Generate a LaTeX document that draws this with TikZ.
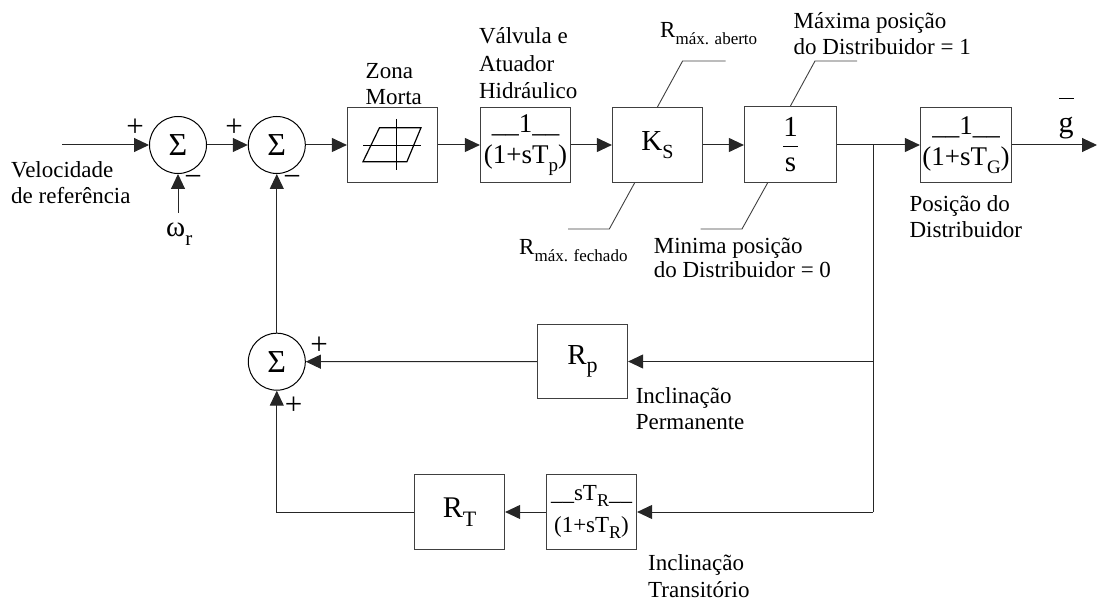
\documentclass[tikz,border=0pt]{standalone}
\usepackage{fontspec}
\setmainfont{Liberation Serif}
\usetikzlibrary{arrows.meta}
\newcommand{\fs}[2]{\fontsize{#1}{#2}\selectfont}
\newcommand{\lowsub}[2]{\raisebox{-0.28em}{\fontsize{#1}{#1}\selectfont #2}}
\tikzset{
  blockbox/.style={draw=black!75,line width=1.2pt,minimum width=90pt,minimum height=75pt,inner sep=0pt,align=center,font=\fs{27}{31}},
  sumnode/.style={draw=black,line width=1pt,circle,minimum size=57pt,inner sep=0pt,font=\fs{32}{32}},
  lab/.style={inner sep=0pt,anchor=base west,align=left,font=\fs{23}{26}},
  signlab/.style={inner sep=0pt,font=\fs{31}{31}},
  wire/.style={line width=1pt,draw=black!85},
  arr/.style={wire,-{Triangle[length=15pt,width=14pt]}},
  lead/.style={line width=0.9pt,draw=black!75}
}
\begin{document}
\begin{tikzpicture}[x=1pt,y=-1pt]
\useasboundingbox (0,0) rectangle (1097,601);
% summing junctions
\node[sumnode] (s1) at (178,145) {Σ};
\node[sumnode] (s2) at (276.8,145) {Σ};
\node[sumnode] (s3) at (276.8,361.7) {Σ};
% blocks
\node[blockbox] (dz) at (392.5,145) {};
\node[blockbox] (valve) at (525.5,145) {\_\_1\_\_\\(1+sT\lowsub{19}{p})};
\node[blockbox,font=\fs{29}{29}] (ks) at (657.5,145) {K\lowsub{20}{S}};
\node[blockbox,minimum width=92pt,minimum height=76pt,font=\fs{29}{35}] (int) at (790.5,144.5) {1\\s};
\coordinate (bl) at (783,147);
\coordinate (br) at (798,147);
\draw[line width=1pt] (bl) -- (br);
\node[blockbox,minimum width=91pt] (gov) at (966,145) {\_\_1\_\_\\(1+sT\lowsub{19}{G})};
\node[blockbox,minimum height=74pt,font=\fs{29}{29}] (rp) at (582.5,361.5) {\raisebox{-2pt}{R\lowsub{22}{p}}};
\node[blockbox,font=\fs{30}{30}] (rt) at (459.5,512) {\raisebox{-3pt}{R\lowsub{22}{T}}};
\node[blockbox,font=\fs{23}{32}] (tr) at (591.5,512) {\_\_sT\lowsub{18}{R}\_\_\\(1+sT\lowsub{18}{R})};
% dead zone symbol
\coordinate (pa) at (363,161.7);
\coordinate (pb) at (379.5,127.7);
\coordinate (pc) at (421,127.7);
\coordinate (pd) at (406.9,161.7);
\draw[line width=1.2pt] (pa) -- (pb) -- (pc) -- (pd) -- cycle;
\coordinate (hl) at (363,145);
\coordinate (hr) at (421,145);
\coordinate (vt) at (396.7,119);
\coordinate (vb) at (396.7,169.7);
\draw[line width=0.9pt] (hl) -- (hr);
\draw[line width=0.9pt] (vt) -- (vb);
% free ends
\coordinate (in) at (62.4,145);
\coordinate (wr) at (178,212.7);
\coordinate (j) at (873.4,145);
\coordinate (jp) at (873.4,361.5);
\coordinate (jt) at (873.4,512);
\coordinate (out) at (1097,145);
% forward path
\draw[arr] (in) -- (s1);
\draw[arr] (wr) -- (s1);
\draw[arr] (s1) -- (s2);
\draw[arr] (s2) -- (dz);
\draw[arr] (dz) -- (valve);
\draw[arr] (valve) -- (ks);
\draw[arr] (ks) -- (int.west |- ks);
\draw[arr] (int.east |- j) -- (gov.west |- j);
\draw[arr] (gov) -- (out);
% feedback
\draw[wire] (j) -- (jt);
\draw[arr] (jp) -- (rp);
\draw[arr] (jt) -- (tr);
\draw[arr] (tr) -- (rt);
\draw[arr] (rp) -- (s3);
\draw[arr] (rt.west) -| (s3.south);
\draw[arr] (s3) -- (s2);
% limit leaders
\coordinate (a1) at (682.6,61);
\coordinate (a2) at (725.5,61);
\coordinate (b1) at (815,61);
\coordinate (b2) at (857,61);
\coordinate (c1) at (609.3,229);
\coordinate (c2) at (568,229);
\coordinate (d1) at (742,229);
\coordinate (d2) at (700.7,229);
\draw[lead] (ks.north) -- (a1) -- (a2);
\draw[lead] (int.north) -- (b1) -- (b2);
\draw[lead] ([xshift=-23pt]ks.south) -- (c1) -- (c2);
\draw[lead] ([xshift=-23pt]int.south) -- (d1) -- (d2);
% signs
\node[signlab] (p1) at (135,128) {+};
\node[signlab] (p2) at (234,128) {+};
\node[signlab] (m1) at (193,181) {−};
\node[signlab] (m2) at (292,181) {−};
\node[signlab] (p3) at (319,346) {+};
\node[signlab] (p4) at (293.6,405.7) {+};
% labels
\node[lab] (tvel) at (11,204) {Velocidade\\de referência};
\node[lab] (tzona) at (365.5,105) {Zona\\Morta};
\node[lab,font=\fs{23}{27.5}] (tval) at (478.8,99) {Válvula e\\Atuador\\Hidráulico};
\node[lab] (tab) at (660,38) {R\lowsub{17}{máx. aberto}};
\node[lab] (tmax) at (793.5,55) {Máxima posição\\do Distribuidor = 1};
\node[lab] (tfec) at (519,255) {R\lowsub{17}{máx. fechado}};
\node[lab,font=\fs{23}{24}] (tmin) at (653.6,278) {Minima posição\\do Distribuidor = 0};
\node[lab] (tpos) at (909.4,238) {Posição do\\Distribuidor};
\node[lab] (tperm) at (635.6,429) {Inclinação\\Permanente};
\node[lab,font=\fs{23}{27}] (ttrans) at (648,597) {Inclinação\\Transitório};
\node[lab,font=\fs{29}{29}] (tom) at (166,237) {ω\lowsub{21}{r}};
\node[inner sep=0pt,anchor=base,font=\fs{30}{30}] (tg) at (1066,133) {g};
\coordinate (gl) at (1059,98.7);
\coordinate (gr) at (1073.5,98.7);
\draw[line width=1pt] (gl) -- (gr);
\end{tikzpicture}
\end{document}
